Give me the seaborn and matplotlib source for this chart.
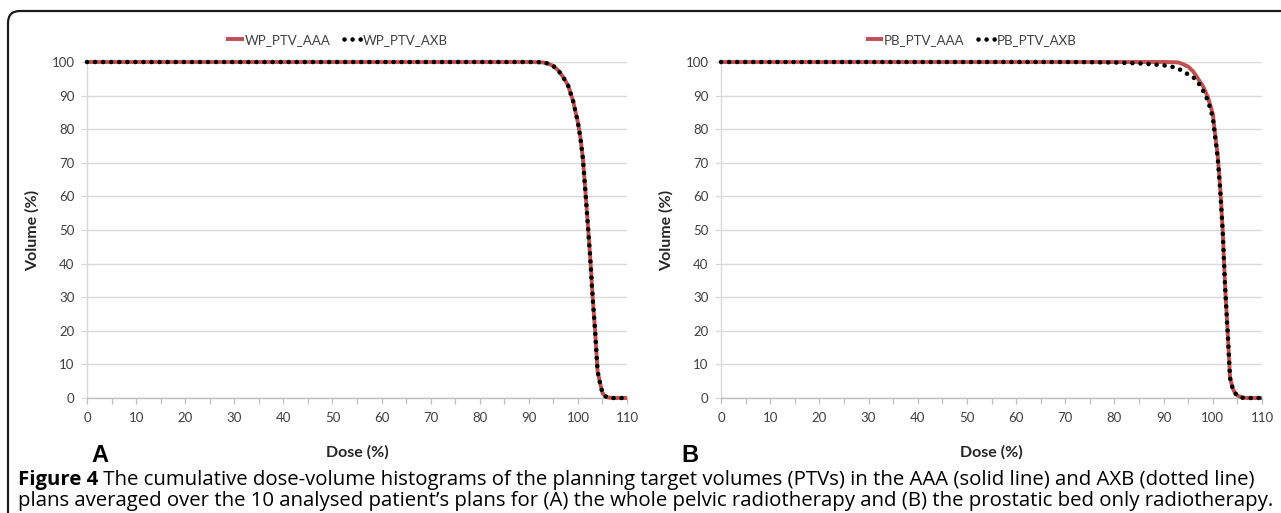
import numpy as np
import pandas as pd
import matplotlib
matplotlib.use("Agg")
import matplotlib.pyplot as plt
import seaborn as sns
from matplotlib.patches import FancyBboxPatch
from matplotlib.transforms import IdentityTransform
from matplotlib.lines import Line2D

# ---------------- data ----------------
wp_dose = [0, 10, 20, 30, 40, 50, 60, 70, 80, 90, 92, 93, 94, 95, 96, 97, 98, 99,
           100, 100.5, 101, 101.5, 102, 102.5, 103, 103.5, 104, 104.5, 105, 105.5,
           106, 107, 108, 110]
wp_aaa = [100, 100, 100, 100, 100, 100, 100, 100, 100, 100, 99.95, 99.85, 99.5, 98.8,
          97.5, 95.5, 93, 88.5, 82, 77.5, 71.5, 62, 52, 42, 30, 20, 8, 4.5, 1.5, 0.6,
          0.2, 0, 0, 0]
wp_axb = [100, 100, 100, 100, 100, 100, 100, 100, 100, 100, 99.95, 99.85, 99.5, 98.8,
          97.5, 95.5, 93, 88.5, 82, 77.5, 71.5, 62, 52, 42, 30, 20, 8, 4.5, 1.5, 0.6,
          0.2, 0, 0, 0]

pb_dose_aaa = [0, 10, 20, 30, 40, 50, 60, 70, 80, 90, 92, 93, 94, 95, 96, 97, 98, 99,
               100, 100.5, 101, 101.5, 102, 102.5, 103, 103.5, 104, 104.5, 105, 106,
               107, 108, 110]
pb_aaa = [100, 100, 100, 100, 100, 100, 100, 100, 100, 100, 99.95, 99.85, 99.3, 98.6,
          97.2, 95.0, 92.8, 89.5, 84.5, 78, 72, 62.5, 50, 33, 20, 6, 3, 1.5, 0.7, 0.1,
          0, 0, 0]

pb_dose_axb = [0, 10, 20, 30, 40, 50, 60, 70, 75, 80, 85, 88, 90, 92, 93, 94, 95, 96,
               97, 98, 99, 100, 100.5, 101, 101.5, 102, 102.5, 103, 103.5, 104, 104.5,
               105, 106, 107, 108, 110]
pb_axb = [100, 100, 100, 100, 100, 100, 100, 100, 99.95, 99.85, 99.6, 99.3, 99.0, 98.5,
          98.0, 97.2, 96.3, 95.5, 94.0, 91.5, 88.5, 83.5, 77.5, 71.5, 62, 50, 33, 20, 6,
          3, 1.5, 0.7, 0.1, 0, 0, 0]

labels_a = ["WP_PTV_AAA", "WP_PTV_AXB"]
labels_b = ["PB_PTV_AAA", "PB_PTV_AXB"]
x_ticks = [0, 10, 20, 30, 40, 50, 60, 70, 80, 90, 100, 110]
y_ticks = [0, 10, 20, 30, 40, 50, 60, 70, 80, 90, 100]

caption_bold = "Figure 4"
caption_line1 = (" The cumulative dose-volume histograms of the planning target volumes (PTVs) "
                 "in the AAA (solid line) and AXB (dotted line)")
caption_line2 = ("plans averaged over the 10 analysed patient\u2019s plans for (A) the whole pelvic "
                 "radiotherapy and (B) the prostatic bed only radiotherapy.")

# ---------------- style ----------------
sns.set_theme(style="white")
plt.rcParams["font.family"] = ["Lato", "DejaVu Sans"]

RED = "#C0504D"
GRID = "#D9D9D9"
AX = "#BFBFBF"
TXT = "#404040"

W, H = 1281, 513
fig = plt.figure(figsize=(W / 100, H / 100), dpi=100)
fig.patch.set_facecolor("white")


def px_axes(left, top, right, bottom):
    return fig.add_axes([left / W, 1 - bottom / H, (right - left) / W, (bottom - top) / H])


axA = px_axes(87, 62, 627, 398)
axB = px_axes(721, 62, 1262, 398)

dot_style = dict(color="black", lw=3.3, linestyle=(0, (0.01, 1.75)),
                 dash_capstyle="round", clip_on=False)
red_style = dict(color=RED, lw=2.8, clip_on=False, solid_capstyle="butt")

panels = [
    (axA, wp_dose, wp_aaa, wp_dose, wp_axb, labels_a, "A", 100, 337),
    (axB, pb_dose_aaa, pb_aaa, pb_dose_axb, pb_axb, labels_b, "B", 690, 971),
]

for ax, d1, v1, d2, v2, labs, letter, letter_x, leg_x in panels:
    df1 = pd.DataFrame({"dose": d1, "vol": v1})
    df2 = pd.DataFrame({"dose": d2, "vol": v2})
    sns.lineplot(data=df1, x="dose", y="vol", ax=ax, legend=False, zorder=3, **red_style)
    sns.lineplot(data=df2, x="dose", y="vol", ax=ax, legend=False, zorder=4, **dot_style)

    ax.set_xlim(0, 110)
    ax.set_ylim(0, 100)
    ax.set_xticks(x_ticks)
    ax.set_xticks(np.arange(5, 110, 10), minor=True)
    ax.set_yticks(y_ticks)
    ax.yaxis.grid(True, color=GRID, lw=1.0)
    ax.xaxis.grid(False)
    ax.set_axisbelow(True)
    for s in ["top", "right"]:
        ax.spines[s].set_visible(False)
    ax.spines["left"].set_color(GRID)
    ax.spines["left"].set_linewidth(1.0)
    ax.spines["bottom"].set_color(AX)
    ax.spines["bottom"].set_linewidth(1.0)
    ax.tick_params(axis="x", which="both", direction="out", length=4, width=0.9,
                   color=AX, labelsize=9.5, labelcolor=TXT, pad=6, bottom=True)
    ax.tick_params(axis="y", which="both", direction="out", length=4, width=0.9,
                   color=GRID, labelsize=9.5, labelcolor=TXT, pad=5, left=True)
    ax.set_xlabel("Dose (%)", fontsize=11.5, fontweight="bold", color="#262626")
    ax.set_ylabel("Volume (%)", fontsize=11.5, fontweight="bold", color="#262626")
    ax.xaxis.set_label_coords(0.5, -0.14)
    ax.yaxis.set_label_coords(-0.088, 0.5)

    handles = [Line2D([], [], **{k: v for k, v in red_style.items() if k != "clip_on"}),
               Line2D([], [], **{k: v for k, v in dot_style.items() if k != "clip_on"})]
    fig.legend(handles, labs, loc="center", bbox_to_anchor=(leg_x / W, 1 - 40 / H),
               ncol=2, frameon=False, fontsize=9.5, handlelength=1.3, handletextpad=0.1,
               columnspacing=1.0, labelcolor=TXT)

    fig.text(letter_x / W, 1 - 455 / H, letter, ha="center", va="center",
             fontsize=17, fontweight="bold", family=["Liberation Sans", "DejaVu Sans"],
             color="black")

# ---------------- caption ----------------
renderer = fig.canvas.get_renderer()
cap_family = ["Open Sans", "DejaVu Sans"]
x0 = 18
target = 1260 - x0
fs = 12.0
for _ in range(6):
    tb = fig.text(0, 0, caption_bold, fontsize=fs, fontweight="bold", family=cap_family)
    tr = fig.text(0, 0, caption_line1, fontsize=fs, family=cap_family)
    wtot = tb.get_window_extent(renderer).width + tr.get_window_extent(renderer).width
    tb.remove()
    tr.remove()
    fs = fs * target / wtot

y1 = 1 - 480 / H
y2 = 1 - 501 / H
tb = fig.text(x0 / W, y1, caption_bold, fontsize=fs, fontweight="bold",
              family=cap_family, va="center", ha="left", color="black")
wb = tb.get_window_extent(renderer).width
fig.text((x0 + wb) / W, y1, caption_line1, fontsize=fs, family=cap_family,
         va="center", ha="left", color="black")
fig.text(x0 / W, y2, caption_line2, fontsize=fs, family=cap_family,
         va="center", ha="left", color="black")

# ---------------- rounded frame ----------------
frame = FancyBboxPatch((8, -60), W + 100, (H - 11) + 60,
                       boxstyle="round,pad=0,rounding_size=12",
                       transform=IdentityTransform(), fill=False,
                       edgecolor="#1a1a1a", linewidth=1.6)
fig.patches.append(frame)

fig.savefig("out.png", dpi=100, facecolor="white")
